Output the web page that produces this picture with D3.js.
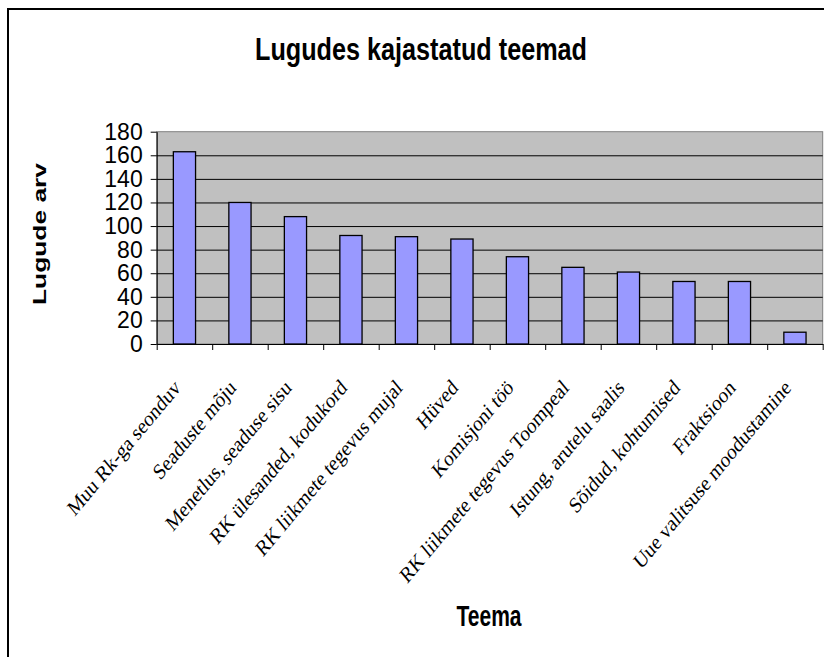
<!doctype html>
<html>
  <head>
    <meta charset="utf-8">
    <script src="https://cdnjs.cloudflare.com/ajax/libs/d3/7.8.5/d3.min.js"></script>
  <style>
    body { margin: 0; background: #fff; }
    svg { display: block; }
    .domain { stroke: #000; }
    .tick line { stroke: #000; }
    .ylab text { font-family: "Liberation Sans", Arial, sans-serif; font-size: 23px; fill: #000; }
    .grid .domain { stroke: none; }
    .grid line { stroke: #000; stroke-width: 1; }
    .xlab { font-family: "Liberation Serif", "Times New Roman", serif; font-size: 18.5px; fill: #000; }
    .ttl { font-family: "Liberation Sans Narrow", "Liberation Sans", Arial, sans-serif; font-weight: bold; fill: #000; }
  </style>
  </head>
  <body>
    <svg width="824" height="657"></svg>
    <script>
      var categories = ["Muu Rk-ga seonduv", "Seaduste mõju", "Menetlus, seaduse sisu",
        "RK ülesanded, kodukord", "RK liikmete tegevus mujal", "Hüved", "Komisjoni töö",
        "RK liikmete tegevus Toompeal", "Istung, arutelu saalis", "Sõidud, kohtumised",
        "Fraktsioon", "Uue valitsuse moodustamine"];
      var values = [163, 120, 108, 92, 91, 89, 74, 65, 61, 53, 53, 10];
      var yTicks = [0, 20, 40, 60, 80, 100, 120, 140, 160, 180];
      var chartTitle = "Lugudes kajastatud teemad";
      var yTitle = "Lugude arv";
      var xTitle = "Teema";

      drawChart();

      function drawChart() {
        var svg = d3.select("svg");
        var pLeft = 156.7, pRight = 822.7, pTop = 131.7, pBottom = 344;

        // outer frame (only top/left visible)
        svg.append("rect").attr("x", 8).attr("y", 9).attr("width", 900).attr("height", 800)
          .attr("fill", "none").attr("stroke", "#000").attr("stroke-width", 2);

        var xScale = d3.scaleBand().domain(categories).range([pLeft, pRight]).padding(0);
        var xIdx = d3.scaleLinear().domain([0, categories.length]).range([pLeft, pRight]);
        var yScale = d3.scaleLinear().domain([0, 180]).range([pBottom, pTop]);

        // plot area
        svg.append("rect").attr("x", pLeft).attr("y", pTop)
          .attr("width", pRight - pLeft).attr("height", pBottom - pTop)
          .attr("fill", "#c0c0c0").attr("stroke", "#808080").attr("stroke-width", 1);

        // gridlines
        svg.append("g").attr("class", "grid")
          .attr("transform", `translate(${pLeft},0)`)
          .call(d3.axisLeft(yScale).tickValues(yTicks.slice(1, -1)).tickSize(-(pRight - pLeft)).tickFormat(""));

        // bars
        var bw = xScale.bandwidth() * 0.4;
        svg.append("g").selectAll("rect").data(values).enter().append("rect")
          .attr("x", (d, i) => xScale(categories[i]) + (xScale.bandwidth() - bw) / 2)
          .attr("y", d => yScale(d))
          .attr("width", bw)
          .attr("height", d => pBottom - yScale(d))
          .attr("fill", "#9999ff")
          .attr("stroke", "#000")
          .attr("stroke-width", 1.3);

        // y axis
        svg.append("g").attr("class", "ylab")
          .attr("transform", `translate(${pLeft},0)`)
          .call(d3.axisLeft(yScale).tickValues(yTicks).tickSize(6).tickPadding(8).tickSizeOuter(0));

        // x axis (ticks between categories)
        svg.append("g")
          .attr("transform", `translate(0,${pBottom})`)
          .call(d3.axisBottom(xIdx).tickValues(d3.range(categories.length + 1)).tickSize(6).tickSizeOuter(0).tickFormat(""));

        // category labels, rotated
        svg.append("g").selectAll("text").data(categories).enter().append("text")
          .attr("class", "xlab")
          .attr("text-anchor", "end")
          .attr("transform", d => `translate(${xScale(d) + xScale.bandwidth() / 2 - 3},389) scale(1,1.2) rotate(-45)`)
          .text(d => d);

        // titles
        svg.append("text").attr("class", "ttl")
          .attr("x", 421).attr("y", 60).attr("text-anchor", "middle")
          .attr("font-size", 32).attr("textLength", 332).attr("lengthAdjust", "spacingAndGlyphs")
          .text(chartTitle);

        svg.append("text").attr("class", "ttl")
          .attr("transform", "translate(46,234) rotate(-90)")
          .attr("text-anchor", "middle")
          .attr("font-size", 18).attr("textLength", 142).attr("lengthAdjust", "spacingAndGlyphs")
          .text(yTitle);

        svg.append("text").attr("class", "ttl")
          .attr("x", 489).attr("y", 626).attr("text-anchor", "middle")
          .attr("font-size", 29).attr("textLength", 65).attr("lengthAdjust", "spacingAndGlyphs")
          .text(xTitle);
      }
    </script>
  </body>
</html>
